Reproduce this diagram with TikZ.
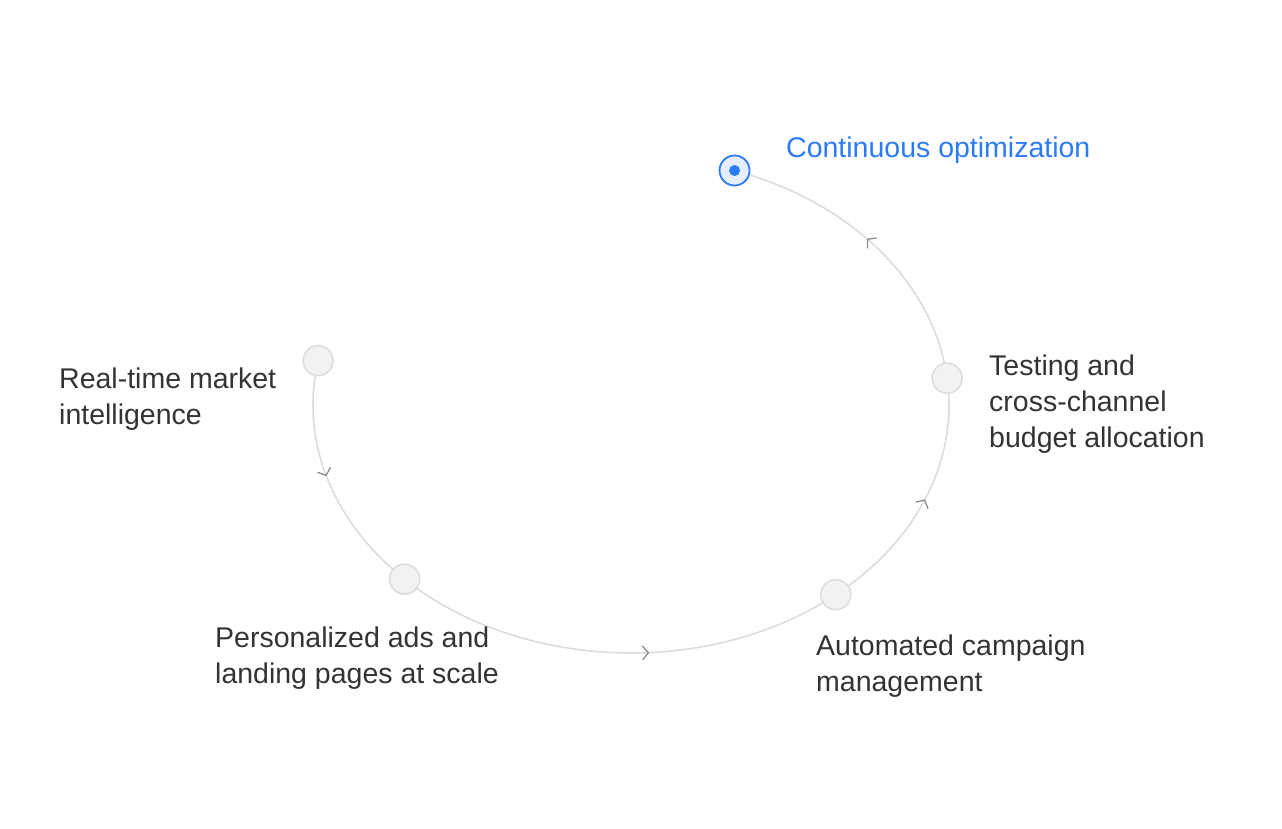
\documentclass[tikz,border=0pt]{standalone}
\usepackage{fontspec}
\setmainfont{Liberation Sans}
\usepackage{xcolor}
\usetikzlibrary{calc,decorations.markings,backgrounds}
\definecolor{ringgray}{HTML}{DCDCDC}
\definecolor{tickgray}{HTML}{8C8C8C}
\definecolor{stagefill}{HTML}{F2F2F2}
\definecolor{stageline}{HTML}{DDDDDD}
\definecolor{hubblue}{HTML}{2B7BF6}
\definecolor{hubfill}{HTML}{E6EEFD}
\definecolor{inkgray}{HTML}{333333}

\begin{document}
\begin{tikzpicture}[
    x=1pt, y=1pt,
    stage/.style={circle, draw=stageline, fill=stagefill, line width=1.6pt, minimum size=30pt, inner sep=0pt},
    hub/.style={circle, draw=hubblue, fill=hubfill, line width=1.8pt, minimum size=30pt, inner sep=0pt},
    hubdot/.style={circle, fill=hubblue, minimum size=11pt, inner sep=0pt},
    txt/.style={anchor=base west, align=left, inner sep=0pt, text=inkgray, font=\fontsize{28.5pt}{36pt}\selectfont},
    ring/.style={draw=ringgray, line width=1.6pt},
    flow/.style={ring, postaction={decorate}, decoration={markings, mark=at position #1 with {\draw[tickgray, line width=1.3pt, line join=miter] (-6pt,7pt) -- (0,0) -- (-6pt,-7pt);}}}
  ]
    \useasboundingbox (0,0) rectangle (1282,828);
    \coordinate (c) at (631,423);
    \node[stage] (market) at ($(c)+(169.7:318pt and 248pt)$) {};
    \node[stage] (ads) at ($(c)+(224.6:318pt and 248pt)$) {};
    \node[stage] (campaign) at ($(c)+(310.1:318pt and 248pt)$) {};
    \node[stage] (testing) at ($(c)+(6.2:318pt and 248pt)$) {};
    \node[hub] (optim) at ($(c)+(71:318pt and 248pt)$) {};
    \node[hubdot] (optimdot) at (optim) {};

    \node[txt] (marketlbl) at (59,403) {Real-time market\\intelligence};
    \node[txt] (adslbl) at (215,145) {Personalized ads and\\landing pages at scale};
    \node[txt] (campaignlbl) at (816,137) {Automated campaign\\management};
    \node[txt] (testinglbl) at (989,380) {Testing and\\cross-channel\\budget allocation};
    \node[txt, text=hubblue] (optimlbl) at (786,670) {Continuous optimization};

    % the loop, kept under the circles
    \begin{scope}[on background layer]
      \draw[flow=0.47] (market.center) arc[start angle=169.7, end angle=224.6, x radius=318pt, y radius=248pt];
      \draw[flow=0.567] (ads.center) arc[start angle=224.6, end angle=310.1, x radius=318pt, y radius=248pt];
      \draw[flow=0.51] (campaign.center) arc[start angle=310.1, end angle=366.2, x radius=318pt, y radius=248pt];
      \draw[flow=0.52] (testing.center) arc[start angle=366.2, end angle=431, x radius=318pt, y radius=248pt];
    \end{scope}
  \end{tikzpicture}
\end{document}
